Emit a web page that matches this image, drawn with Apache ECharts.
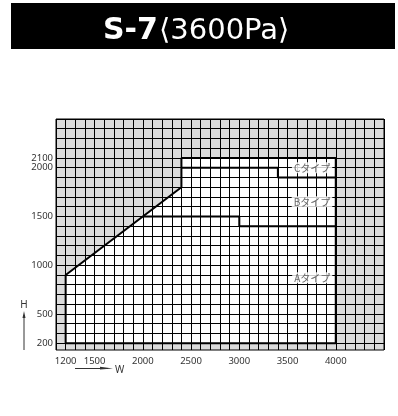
<!DOCTYPE html>
<html><head><meta charset="utf-8">
<script src="https://cdn.jsdelivr.net/npm/echarts@6/dist/echarts.min.js"></script>
<style>html,body{margin:0;padding:0;background:#fff}#c{width:398px;height:416px}</style>
</head><body><div id="c"></div>
<script>
// ---- data ----
const titleMain = 'S-7';
const titleSub = '⟨3600Pa⟩';
const xTickLabels = [1200, 1500, 2000, 2500, 3000, 3500, 4000];
const yTickLabels = [200, 500, 1000, 1500, 2000];
const yTickLabelsExtra = [2100];
const xRange = [1100, 4500];
const yRange = [130, 2500];
const gridStep = 100;
// outer envelope of the usable range (W, H)
const envelope = [[1200, 200], [1200, 900], [2400, 1800], [2400, 2100], [4000, 2100], [4000, 200], [1200, 200]];
// boundary between B and C types
const boundaryBC = [[2400, 2000], [3400, 2000], [3400, 1900], [4000, 1900]];
// boundary between A and B types
const boundaryAB = [[2000, 1500], [3000, 1500], [3000, 1400], [4000, 1400]];
const typeNames = ['Cタイプ', 'Bタイプ', 'Aタイプ'];
const typeLabelAnchors = [[4000, 2000], [4000, 1650], [4000, 870]];

// ---- chart ----
function gridValues(lo, hi, s) {
  const r = [];
  for (let v = Math.ceil(lo / s) * s; v <= hi; v += s) r.push(v);
  return r;
}
const chart = echarts.init(document.getElementById('c'), null, { renderer: 'canvas' });
const labelFont = { fontFamily: 'Noto Sans', fontSize: 9.5, color: '#333', hideOverlap: false, formatter: v => String(v) };
const lineStyleThick = { color: '#000', width: 2 };

const option = {
  animation: false,
  backgroundColor: '#fff',
  grid: {
    left: 56, right: 14, top: 119, bottom: 66,
    show: true, backgroundColor: '#dcdcdc', borderColor: '#000', borderWidth: 1, z: 0
  },
  xAxis: {
    type: 'value', min: xRange[0], max: xRange[1], z: 3,
    axisLine: { show: false },
    axisTick: { show: false, customValues: gridValues(xRange[0], xRange[1], gridStep) },
    splitLine: { show: true, lineStyle: { color: '#000', width: 1 } },
    axisLabel: Object.assign({ customValues: xTickLabels, margin: 6 }, labelFont)
  },
  yAxis: [
    {
      type: 'value', min: yRange[0], max: yRange[1], z: 3, position: 'left',
      axisLine: { show: false },
      axisTick: { show: false, customValues: gridValues(yRange[0], yRange[1], gridStep) },
      splitLine: { show: true, lineStyle: { color: '#000', width: 1 } },
      axisLabel: Object.assign({ customValues: yTickLabels, margin: 3 }, labelFont)
    },
    {
      type: 'value', min: yRange[0], max: yRange[1], z: 3, position: 'left', offset: 0,
      axisLine: { show: false },
      axisTick: { show: false, customValues: yTickLabelsExtra },
      splitLine: { show: false },
      axisLabel: Object.assign({ customValues: yTickLabelsExtra, margin: 3 }, labelFont)
    }
  ],
  series: [
    {
      type: 'custom', z: 1, silent: true,
      data: [0],
      renderItem: function (params, api) {
        const pts = envelope.map(p => api.coord(p));
        return { type: 'polygon', shape: { points: pts }, style: { fill: '#fff', stroke: null } };
      }
    },
    { type: 'line', z: 5, data: envelope, symbol: 'none', lineStyle: lineStyleThick },
    { type: 'line', z: 5, data: boundaryBC, symbol: 'none', lineStyle: lineStyleThick },
    { type: 'line', z: 5, data: boundaryAB, symbol: 'none', lineStyle: lineStyleThick },
    {
      type: 'scatter', z: 6, symbolSize: 1, itemStyle: { color: 'transparent' },
      data: typeNames.map((n, i) => ({ name: n, value: typeLabelAnchors[i] })),
      label: {
        show: true, position: 'left', distance: 3, formatter: '{b}',
        fontFamily: 'Noto Sans CJK JP', fontSize: 10, color: '#444',
        backgroundColor: '#fff', padding: [1, 2, 0, 2]
      }
    }
  ],
  graphic: [
    { type: 'rect', shape: { x: 11, y: 3, width: 384, height: 46 }, style: { fill: '#000' }, silent: true },
    { type: 'text', style: { text: titleMain, x: 103, y: 31, verticalAlign: 'middle', fill: '#fff', font: 'bold 30px "DejaVu Sans"' } },
    { type: 'text', style: { text: titleSub, x: 159, y: 31, verticalAlign: 'middle', fill: '#fff', font: '29px "DejaVu Sans"' } },
    // H arrow
    { type: 'text', style: { text: 'H', x: 24, y: 305, align: 'center', verticalAlign: 'middle', fill: '#333', font: '10px "Noto Sans"' } },
    { type: 'line', shape: { x1: 24, y1: 350, x2: 24, y2: 315 }, style: { stroke: '#333', lineWidth: 1 } },
    { type: 'polygon', shape: { points: [[24, 311], [22.5, 318], [25.5, 318]] }, style: { fill: '#333' } },
    // W arrow
    { type: 'line', shape: { x1: 75, y1: 368.5, x2: 108, y2: 368.5 }, style: { stroke: '#333', lineWidth: 1 } },
    { type: 'polygon', shape: { points: [[113, 368.5], [100, 366.8], [100, 369.5]] }, style: { fill: '#333' } },
    { type: 'text', style: { text: 'W', x: 115, y: 370, verticalAlign: 'middle', fill: '#333', font: '10px "Noto Sans"' } }
  ]
};
chart.setOption(option);
</script>
</body></html>
